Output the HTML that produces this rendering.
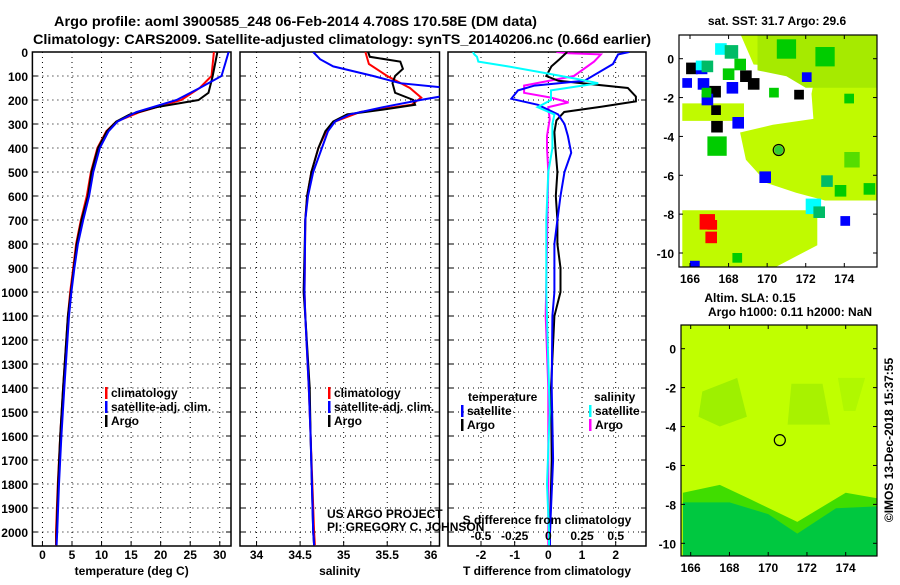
<!DOCTYPE html>
<html><head><meta charset="utf-8"><style>
body{margin:0;background:#fff;}
svg text{font-family:"Liberation Sans",sans-serif;font-weight:bold;}
</style></head><body>
<svg id="s" width="900" height="580" viewBox="0 0 900 580" xmlns="http://www.w3.org/2000/svg">
<text x="54" y="26" font-size="14" textLength="483" lengthAdjust="spacingAndGlyphs">Argo profile: aoml 3900585_248 06-Feb-2014 4.708S 170.58E (DM data)</text>
<text x="33" y="44" font-size="14" textLength="618" lengthAdjust="spacingAndGlyphs">Climatology: CARS2009. Satellite-adjusted climatology: synTS_20140206.nc (0.66d earlier)</text>
<g id="g"></g>
</svg>
<script>
// ---------- data ----------
const depthTicks=[0,100,200,300,400,500,600,700,800,900,1000,1100,1200,1300,1400,1500,1600,1700,1800,1900,2000];
const tempTicks=[0,5,10,15,20,25,30];
const salTicks=[34,34.5,35,35.5,36];
const tdiffTicks=[-2,-1,0,1,2];
const sdiffTickLabels=["-0.5","-0.25","0","0.25","0.5"];
const sdiffTicks=[-0.5,-0.25,0,0.25,0.5];

const tArgoD=[0,100,170,200,230,260,290,330,400,500,600,700,800,900,1000,1100,1400,1600,1800,2000,2055];
const tArgo=[29.6,28.8,28.1,26.4,19.3,14.8,12.5,10.9,9.4,8.3,7.7,6.6,5.8,5.3,4.8,4.3,3.5,3.0,2.65,2.4,2.35];
const tClimD=[0,100,150,200,250,290,330,400,500,600,700,800,900,1000,1100,1400,1600,1800,2000,2055];
const tClim=[29.0,28.6,26.6,23.5,16.5,12.5,10.8,9.3,8.2,7.5,6.5,5.7,5.2,4.7,4.3,3.5,3.0,2.6,2.3,2.3];
const tSatD=[0,50,100,150,200,250,290,330,400,500,600,700,800,900,1000,1100,1400,1600,1800,2000,2055];
const tSat=[31.5,30.9,30.3,26.6,22.7,15.9,12.7,11.2,9.7,8.6,7.9,6.9,6.0,5.4,4.9,4.5,3.7,3.2,2.8,2.5,2.4];

const sArgoD=[0,20,40,70,100,130,170,200,220,240,260,290,330,400,500,600,700,1000,1100,1400,1600,2000,2055];
const sArgo=[35.28,35.30,35.65,35.68,35.59,35.56,35.59,35.80,35.82,35.45,35.04,34.88,34.79,34.71,34.63,34.58,34.56,34.54,34.56,34.61,34.62,34.65,34.66];
const sClimD=[0,50,100,150,190,220,250,290,330,400,500,600,700,1000,1100,1400,1600,2000,2055];
const sClim=[35.25,35.29,35.50,35.76,35.89,35.78,35.19,34.90,34.80,34.71,34.63,34.58,34.56,34.55,34.56,34.60,34.62,34.66,34.67];
const sSatD=[0,30,60,100,130,150,180,200,230,260,290,330,400,500,600,700,1000,1100,1400,1600,2000,2055];
const sSat=[34.65,34.73,34.88,35.34,35.65,36.2,36.2,35.88,35.45,35.07,34.90,34.82,34.75,34.65,34.59,34.56,34.55,34.56,34.60,34.62,34.65,34.66];

const dtArgoD=[0,30,60,100,120,150,186,206,228,250,285,334,400,500,600,700,800,900,1000,1100,1400,1700,2000,2055];
const dtArgo=[0.56,0.33,0.09,-0.06,0.3,2.36,2.6,2.6,1.57,0.47,0.24,0.18,0.21,0.27,0.22,0.27,0.27,0.36,0.36,0.18,0.08,0.1,0.05,0.05];
const dtSatD=[0,10,50,120,140,160,195,220,260,300,350,420,500,600,700,800,1000,1100,1400,1700,2000,2055];
const dtSat=[2.4,2.07,1.92,1.07,-0.41,-0.9,-1.1,-0.31,0.29,0.48,0.58,0.68,0.48,0.36,0.27,0.18,0.18,0.12,0.1,0.14,0.05,0.05];
const dsSatD=[0,10,20,40,60,90,110,130,160,200,230,260,300,400,500,700,1000,1500,1800,2000,2055];
const dsSat=[-0.56,-0.55,-0.53,-0.52,-0.30,0.0,0.19,0.37,0.02,0.02,-0.08,0.045,0.03,0.03,0.0,-0.015,-0.015,0.01,-0.01,0.005,0.005];
const dsArgoD=[0,5,10,40,100,140,170,190,210,230,280,350,400,500,800,1100,1400,2000,2055];
const dsArgo=[0.06,0.15,0.39,0.34,0.19,-0.18,-0.18,0.02,0.15,0.0,0.01,-0.01,-0.01,0.0,-0.01,-0.02,0.0,0.0,0.0];

const mapLonTicks=[166,168,170,172,174];
const mapLatTicks=[0,-2,-4,-6,-8,-10];
const argoPos=[170.6,-4.7];
// map1 SST cells: lon, lat(top), size deg, colour
const sstCells=[[165.8,-0.2,0.6,"#000"],[166.3,-0.2,0.6,"#00f"],[165.6,-1.0,0.5,"#00f"],[166.4,-1.0,0.6,"#00f"],[167.0,-1.4,0.6,"#000"],[166.6,-1.8,0.6,"#00f"],[167.9,-1.2,0.6,"#00f"],[168.6,-0.6,0.6,"#000"],[169.0,-1.0,0.6,"#000"],[171.4,-1.6,0.5,"#000"],[171.8,-0.7,0.5,"#00f"],[167.1,-2.4,0.5,"#000"],[167.1,-3.2,0.6,"#000"],[168.2,-3.0,0.6,"#00f"],[169.6,-5.8,0.6,"#00f"],[172.0,-7.2,0.8,"#0ff"],[166.5,-8.0,0.8,"#f00"],[166.9,-8.3,0.5,"#f00"],[166.8,-8.9,0.6,"#f00"],[173.8,-8.1,0.5,"#00f"],[166.3,-0.1,0.5,"#0ff"],[167.3,0.8,0.6,"#0ff"],[166.0,-10.4,0.5,"#00f"],[166.6,-0.1,0.6,"#0b6"],[167.8,0.7,0.7,"#0b6"],[168.3,0.0,0.6,"#0c0"],[167.7,-0.5,0.6,"#0c0"],[166.6,-1.5,0.5,"#0c0"],[166.9,-4.0,1.0,"#0c0"],[173.5,-6.5,0.6,"#0c0"],[172.4,-7.6,0.6,"#0b6"],[170.5,1.0,1.0,"#0c0"],[172.5,0.6,1.0,"#0c0"],[174.0,-4.8,0.8,"#5d0"],[172.8,-6.0,0.6,"#0b6"],[175.0,-6.4,0.6,"#0c0"],[168.2,-10.0,0.5,"#0c0"],[170.1,-1.5,0.5,"#0c0"],[174.0,-1.8,0.5,"#0c0"]];

// ---------- helpers ----------
const NS="http://www.w3.org/2000/svg";
const G=document.getElementById('g');
function mk(tag,at,parent){const e=document.createElementNS(NS,tag);for(const k in at)e.setAttribute(k,at[k]);(parent||G).appendChild(e);return e;}
function txt(x,y,s,size,anchor,parent){const t=mk('text',{x:x,y:y,'font-size':size,'text-anchor':anchor||'start'},parent);t.textContent=s;return t;}
const Y0=52,PY=0.24,YB=546;
const yD=d=>Y0+d*PY;
function panel(name,x0,x1,vmin,vmax){
  return {name:name,x0:x0,x1:x1,sx:v=>x0+(v-vmin)/(vmax-vmin)*(x1-x0)};
}
const P1=panel('temperature',32.4,231,-1.7,31.9);
const P2=panel('salinity',240,439.5,33.81,36.1);
const P3=panel('difference',448,646,-2.98,2.9);

function frame(P,xt,labels,title){
  const g=mk('g',{});
  
  
  const cp=mk('clipPath',{id:'c-'+P.name},g);
  mk('rect',{x:P.x0,y:Y0,width:P.x1-P.x0,height:YB-Y0},cp);
  depthTicks.forEach(d=>{
    const l=mk('line',{x1:P.x0,x2:P.x1,y1:yD(d),y2:yD(d),stroke:'#000','stroke-width':1,'stroke-dasharray':'1,4'},g);
    
    
    mk('line',{x1:P.x0,x2:P.x0+5,y1:yD(d),y2:yD(d),stroke:'#000'},g);
    mk('line',{x1:P.x1-5,x2:P.x1,y1:yD(d),y2:yD(d),stroke:'#000'},g);
  });
  xt.forEach((v,i)=>{
    const x=P.sx(v);
    const l=mk('line',{x1:x,x2:x,y1:Y0,y2:YB,stroke:'#000','stroke-width':1,'stroke-dasharray':'1,4'},g);
    
    
    mk('line',{x1:x,x2:x,y1:YB-5,y2:YB,stroke:'#000'},g);
    const t=txt(x,559,labels[i],12,'middle',g);
    
    
  });
  const r=mk('rect',{x:P.x0,y:Y0,width:P.x1-P.x0,height:YB-Y0,fill:'none',stroke:'#000','stroke-width':1.5},g);
  
  
  const at=txt((P.x0+P.x1)/2,575,title,12,'middle',g);
  
  
  return g;
}
function series(P,g,ds,vs,color,sx,name){
  const pts=ds.map((d,i)=>sx(vs[i]).toFixed(1)+','+yD(d).toFixed(1)).join(' ');
  const pl=mk('polyline',{points:pts,fill:'none',stroke:color,'stroke-width':2,'clip-path':'url(#c-'+P.name+')'},g);
  
  
}
function legend(g,x,y,color,label){
  mk('rect',{x:x,y:y-10,width:2.5,height:12,fill:color},g);
  const t=txt(x+6,y,label,12,'start',g);
  
  
}

// depth axis labels
depthTicks.forEach(d=>{
  const t=txt(28,yD(d)+5,String(d),12,'end');
  
  
});

const g1=frame(P1,tempTicks,tempTicks.map(String),'temperature (deg C)');
series(P1,g1,tClimD,tClim,'#f00',P1.sx,'temp-climatology-line');
series(P1,g1,tArgoD,tArgo,'#000',P1.sx,'temp-argo-line');
series(P1,g1,tSatD,tSat,'#00f',P1.sx,'temp-satellite-line');
legend(g1,105,397,'#f00','climatology');legend(g1,105,411,'#00f','satellite-adj. clim.');legend(g1,105,425,'#000','Argo');

const g2=frame(P2,salTicks,["34","34.5","35","35.5","36"],'salinity');
series(P2,g2,sClimD,sClim,'#f00',P2.sx,'sal-climatology-line');
series(P2,g2,sArgoD,sArgo,'#000',P2.sx,'sal-argo-line');
series(P2,g2,sSatD,sSat,'#00f',P2.sx,'sal-satellite-line');
legend(g2,328,397,'#f00','climatology');legend(g2,328,411,'#00f','satellite-adj. clim.');legend(g2,328,425,'#000','Argo');
{const a=txt(327,518,'US ARGO PROJECT',12,'start',g2);a.setAttribute('font-weight','normal');
 const b=txt(327,531,'PI: GREGORY C. JOHNSON',12,'start',g2);b.setAttribute('font-weight','normal');}

const g3=frame(P3,tdiffTicks,tdiffTicks.map(String),'T difference from climatology');
const sdx=v=>P3.sx(v*4);
series(P3,g3,dsArgoD,dsArgo,'#f0f',sdx,'sdiff-argo-line');
series(P3,g3,dtArgoD,dtArgo,'#000',P3.sx,'tdiff-argo-line');
series(P3,g3,dtSatD,dtSat,'#00f',P3.sx,'tdiff-satellite-line');
series(P3,g3,dsSatD,dsSat,'#0ff',sdx,'sdiff-satellite-line');
sdiffTicks.forEach((v,i)=>{const t=txt(sdx(v),540,sdiffTickLabels[i],12,'middle',g3);});
{const t=txt(547,524,'S difference from climatology',12,'middle',g3);}
{const t=txt(468,401,'temperature',12,'start',g3);
 const u=txt(594,401,'salinity',12,'start',g3);}
legend(g3,461,415,'#00f','satellite');legend(g3,461,429,'#000','Argo');
legend(g3,589,415,'#0ff','satellite');legend(g3,589,429,'#f0f','Argo');

// ---------- maps ----------
function map(name,x0,x1,yt,yb,lonA,lonB,lat0y,lat10y){
  const M={x0:x0,x1:x1,yt:yt,yb:yb};
  M.lx=lon=>lonA+(lon-166)/8*(lonB-lonA);
  M.ly=lat=>lat0y+(-lat)/10*(lat10y-lat0y);
  M.g=mk('g',{});
  
  
  const cp=mk('clipPath',{id:'c-'+name},M.g);
  mk('rect',{x:x0,y:yt,width:x1-x0,height:yb-yt},cp);
  M.inner=mk('g',{'clip-path':'url(#c-'+name+')'},M.g);
  M.poly=(pts,fill)=>mk('polygon',{points:pts.map(p=>M.lx(p[0]).toFixed(1)+','+M.ly(p[1]).toFixed(1)).join(' '),fill:fill},M.inner);
  M.finish=()=>{
    mk('rect',{x:x0,y:yt,width:x1-x0,height:yb-yt,fill:'none',stroke:'#000','stroke-width':1.2},M.g);
    mapLonTicks.forEach(l=>{const x=M.lx(l);mk('line',{x1:x,x2:x,y1:yt,y2:yt+4,stroke:'#000'},M.g);mk('line',{x1:x,x2:x,y1:yb-4,y2:yb,stroke:'#000'},M.g);
      const t=txt(x,yb+16,String(l),12,'middle',M.g);});
    mapLatTicks.forEach(l=>{const y=M.ly(l);mk('line',{x1:x0,x2:x0+4,y1:y,y2:y,stroke:'#000'},M.g);mk('line',{x1:x1-4,x2:x1,y1:y,y2:y,stroke:'#000'},M.g);
      const t=txt(x0-5,y+5,String(l),12,'end',M.g);});
    const c=mk('circle',{cx:M.lx(argoPos[0]),cy:M.ly(argoPos[1]),r:5.5,fill:'none',stroke:'#000','stroke-width':1.2},M.g);
    
    
  };
  return M;
}
const M1=map('sst-map',679,877,35,267,690,844.3,58.7,253);
mk('rect',{x:679,y:35,width:198,height:232,fill:'#fff'},M1.inner);
M1.poly([[168.6,1.3],[175.7,1.3],[175.7,-7.3],[173,-7.3],[171.5,-6.9],[170,-6.4],[168.9,-5.2],[168.6,-3.8],[170.3,-3.4],[172.4,-3.1],[172.3,-1.8],[172.5,-0.8],[170.8,-0.4],[169.3,-0.3]],'#c0fa00');
M1.poly([[169.5,1.3],[175.7,1.3],[175.7,-1.5],[172,-1.5],[171,-0.9],[169.5,-0.6]],'#a6ea00');
M1.poly([[165.6,-2.3],[168.8,-2.3],[168.8,-3.2],[165.6,-3.2]],'#c0fa00');
M1.poly([[165.6,-7.8],[172.6,-7.8],[172.6,-9.6],[170.3,-10.8],[165.6,-10.8]],'#c0fa00');
M1.poly([[165.6,1.3],[168.6,1.3],[168.6,-0.6],[165.6,-0.6]],'#fff');
M1.poly([[165.6,-0.2],[168.6,-0.2],[168.6,-2.0],[165.6,-2.0]],'#fff');
sstCells.forEach(c=>{
  const r=mk('rect',{x:M1.lx(c[0]).toFixed(1),y:M1.ly(c[1]).toFixed(1),width:(c[2]*19.3).toFixed(1),height:(c[2]*19.4).toFixed(1),fill:c[3]},M1.inner);
  
  
});
M1.finish();
mk('circle',{cx:M1.lx(argoPos[0]),cy:M1.ly(argoPos[1]),r:4.5,fill:'#3c3'},M1.g);
{const t=txt(777,25,'sat. SST: 31.7 Argo: 29.6',12,'middle');}

const M2=map('sla-map',681,877,325,556,690.7,845.7,348.7,543.3);
mk('rect',{x:681,y:325,width:196,height:231,fill:'#c0ff00'},M2.inner);
M2.poly([[166.6,-2.2],[168.4,-1.5],[168.9,-3.5],[167.5,-4.0],[166.4,-3.5]],'#9ef000');
M2.poly([[171.2,-1.8],[172.8,-1.8],[173.2,-3.9],[171.0,-3.9]],'#a8f200');
M2.poly([[173.6,-1.5],[175,-1.5],[174.5,-3.2],[173.9,-3.2]],'#b0f800');
M2.poly([[165.6,-7.4],[167.5,-7.0],[169,-7.7],[171.5,-8.9],[174,-7.4],[175.7,-7.7],[175.7,-10.8],[165.6,-10.8]],'#40dd00');
M2.poly([[165.6,-7.9],[168,-7.9],[170,-8.5],[171.5,-9.5],[173.5,-8.2],[175.7,-8.1],[175.7,-10.8],[165.6,-10.8]],'#00c840');
M2.finish();
{const t=txt(750,302,'Altim. SLA: 0.15',12,'middle');
 const u=txt(790,316,'Argo h1000: 0.11 h2000: NaN',12,'middle');}
{const t=txt(0,0,'©IMOS 13-Dec-2018 15:37:55',12,'middle');t.setAttribute('font-weight','normal');t.setAttribute('transform','translate(893,440) rotate(-90)');}
</script>
</body></html>
